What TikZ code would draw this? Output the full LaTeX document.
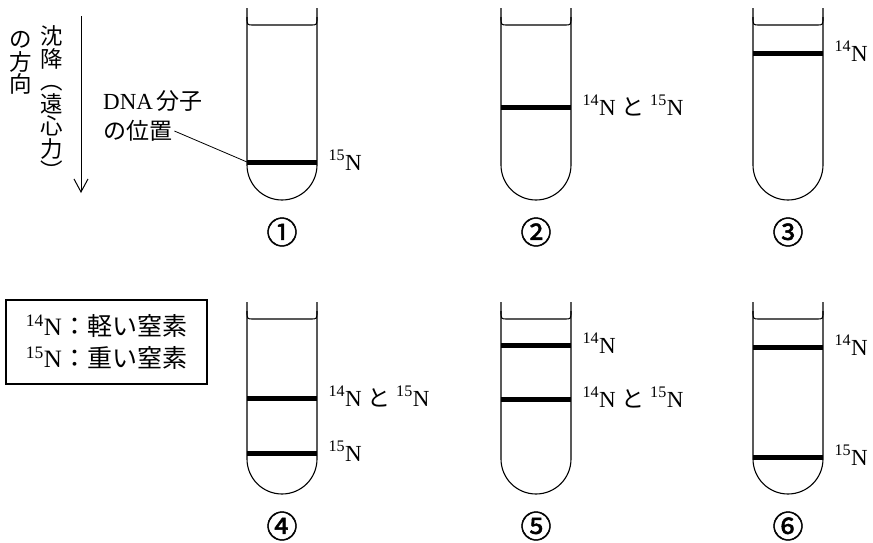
\documentclass[tikz,border=0pt]{standalone}
\usepackage{fontspec}
\setmainfont{Liberation Serif}
\newfontfamily\jp{Noto Sans CJK JP}
\newfontfamily\circfont[FakeBold=1.6]{Noto Sans CJK JP}
\usetikzlibrary{positioning, arrows.meta}

\newcommand\iso[1]{\textsuperscript{#1}N}
\newcommand\tubeat[2]{%
	\draw[tube] (#1,#2) -- (#1,#2+157) arc[start angle=180, end angle=0, radius=35] -- (#1+70,#2);
	\draw[tube] (#1,#2+9) .. controls (#1,#2+17) .. (#1+6,#2+17) -- (#1+64,#2+17) .. controls (#1+70,#2+17) .. (#1+70,#2+9);
}

\tikzset{
	tube/.style={line width=1.1pt},
	band/.style={line width=5pt},
	lab/.style={anchor=base west, inner sep=2pt, xshift=7pt, yshift=-8pt, font=\fontsize{23}{27}\selectfont},
	num/.style={font=\circfont\fontsize{31}{31}\selectfont},
	txt/.style={inner sep=2pt, font=\fontsize{23}{27}\selectfont},
	vtxt/.style={inner sep=0pt, align=center, font=\jp\fontsize{22.5}{22.5}\selectfont},
}

\begin{document}
\begin{tikzpicture}[x=1pt, y=-1pt]
	\useasboundingbox (0,0) rectangle (873,542);
	\foreach \l/\t in {247/8,501/8,753/8,247/302,501/302,753/302} {
		\tubeat{\l}{\t}
	};
	\foreach \n/\l/\y/\t in {1/247/162/{\iso{15}}, 2/501/107/{\iso{14} {\jp と} \iso{15}}, 3/753/53/{\iso{14}},
		4/247/398/{\iso{14} {\jp と} \iso{15}}, 4b/247/453/{\iso{15}},
		5/501/345/{\iso{14}}, 5b/501/399/{\iso{14} {\jp と} \iso{15}},
		6/753/347/{\iso{14}}, 6b/753/457/{\iso{15}}} {
		\draw[band] (\l,\y) coordinate (band\n) -- ++(70,0) node[lab] (lab\n) {\t};
	};
	\foreach \x/\y/\c/\n in {282/232/①/1,536/232/②/2,788/232/③/3,282/526/④/4,536/526/⑤/5,788/526/⑥/6} {
		\node[num] (num\n) at (\x,\y) {\c};
	};
	\node[txt, anchor=west] (dna) at (101,101) {DNA\,{\jp 分子}};
	\node[txt, anchor=west] (pos) at (101,131) {{\jp の位置}};
	\draw[line width=0.8pt] (pos.east) -- (band1);
	\node[vtxt] (sink) at (52,103) {沈\\降\\︵\\遠\\心\\力\\︶};
	\node[vtxt] (dir) at (21,63) {の\\方\\向};
	\coordinate (atop) at (81,16);
	\coordinate (abot) at (81,193);
	\draw[line width=1pt, -{Straight Barb[length=13pt, width=14pt]}] (atop) -- (abot);
	\node[draw, line width=1.1pt, minimum width=201pt, minimum height=84pt, align=left,
		font=\fontsize{25}{32}\selectfont] (legend) at (106.5,342)
		{\iso{14}{\jp ：軽い窒素}\\\iso{15}{\jp ：重い窒素}};
\end{tikzpicture}
\end{document}
